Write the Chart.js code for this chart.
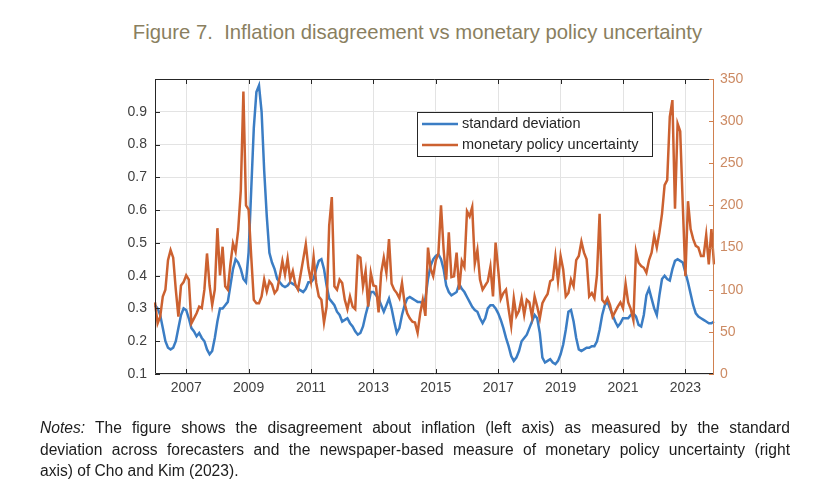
<!DOCTYPE html>
<html>
<head>
<meta charset="utf-8">
<script src="https://cdn.jsdelivr.net/npm/chart.js@4.4.0/dist/chart.umd.min.js"></script>
<style>
  html, body { margin: 0; padding: 0; background: #fff; }
  #wrap { position: relative; width: 835px; height: 485px; overflow: hidden; }
  #chart { position: absolute; left: 0; top: 0; }
  .title { position: absolute; left: 0; top: 20px; width: 835px; text-align: center;
           font: 20.3px "Liberation Sans", sans-serif; line-height: 24px; color: #8a7f5f; }
  .notes { position: absolute; left: 40px; top: 417px; width: 750px;
           font: 15.6px "Liberation Sans", sans-serif; line-height: 21.5px; color: #1c1c1c; }
  .notes div { white-space: nowrap; text-align: justify; text-align-last: justify; }
  .notes div.last { text-align-last: left; }
</style>
</head>
<body>
<div id="wrap">
  <div class="title">Figure 7.&nbsp; Inflation disagreement vs monetary policy uncertainty</div>
  <canvas id="chart" width="835" height="485"></canvas>
  <div class="notes">
    <div><i>Notes:</i> The figure shows the disagreement about inflation (left axis) as measured by the standard</div>
    <div>deviation across forecasters and the newspaper-based measure of monetary policy uncertainty (right</div>
    <div class="last">axis) of Cho and Kim (2023).</div>
  </div>
</div>
<script>
// monthly data, Jan 2006 .. Dec 2023
const startYear = 2006;
const yearTicks = ['2007', '2009', '2011', '2013', '2015', '2017', '2019', '2021', '2023'];

const stdDev = [
  0.31, 0.30, 0.28, 0.24, 0.20, 0.18, 0.175, 0.18, 0.20, 0.24, 0.28, 0.30,
  0.295, 0.27, 0.24, 0.23, 0.215, 0.225, 0.21, 0.20, 0.175, 0.16, 0.17, 0.21,
  0.26, 0.30, 0.30, 0.31, 0.32, 0.37, 0.42, 0.45, 0.44, 0.42, 0.39, 0.38,
  0.47, 0.66, 0.85, 0.96, 0.98, 0.90, 0.72, 0.58, 0.47, 0.44, 0.42, 0.39,
  0.38, 0.37, 0.365, 0.37, 0.38, 0.375, 0.37, 0.36, 0.355, 0.35, 0.36, 0.38,
  0.38, 0.39, 0.42, 0.445, 0.45, 0.42, 0.37, 0.33, 0.32, 0.31, 0.29, 0.28,
  0.26, 0.265, 0.27, 0.255, 0.245, 0.23, 0.22, 0.225, 0.245, 0.28, 0.31, 0.35,
  0.35, 0.34, 0.33, 0.31, 0.29, 0.31, 0.33, 0.30, 0.26, 0.225, 0.24, 0.28,
  0.31, 0.33, 0.335, 0.33, 0.325, 0.32, 0.32, 0.315, 0.33, 0.39, 0.43, 0.45,
  0.46, 0.465, 0.45, 0.42, 0.37, 0.35, 0.34, 0.345, 0.35, 0.375, 0.36, 0.35,
  0.335, 0.32, 0.305, 0.295, 0.29, 0.27, 0.255, 0.27, 0.30, 0.31, 0.31, 0.30,
  0.285, 0.265, 0.24, 0.21, 0.185, 0.155, 0.14, 0.15, 0.17, 0.20, 0.21, 0.22,
  0.24, 0.26, 0.28, 0.27, 0.225, 0.15, 0.135, 0.14, 0.145, 0.135, 0.13, 0.14,
  0.16, 0.19, 0.235, 0.29, 0.295, 0.26, 0.21, 0.175, 0.17, 0.175, 0.18, 0.18,
  0.185, 0.185, 0.20, 0.235, 0.28, 0.31, 0.32, 0.30, 0.28, 0.26, 0.245, 0.255,
  0.27, 0.27, 0.27, 0.28, 0.285, 0.275, 0.25, 0.245, 0.28, 0.34, 0.36, 0.33,
  0.30, 0.28, 0.34, 0.39, 0.40, 0.39, 0.385, 0.42, 0.445, 0.45, 0.445, 0.44,
  0.41, 0.38, 0.345, 0.31, 0.285, 0.275, 0.27, 0.265, 0.26, 0.255, 0.255, 0.26
];

const mpu = [
  85, 60, 68, 92, 100, 135, 147, 138, 100, 68, 105, 109,
  117, 112, 60, 66, 72, 80, 78, 100, 143, 105, 82, 100,
  173, 117, 151, 104, 100, 130, 155, 145, 171, 218, 335, 200,
  195, 140, 88, 84, 84, 92, 112, 98, 110, 106, 96, 100,
  116, 134, 118, 137, 112, 122, 106, 100, 118, 136, 154, 126,
  110, 139, 108, 92, 88, 61, 80, 176, 210, 104, 100, 112,
  108, 88, 77, 92, 80, 77, 140, 138, 104, 122, 80, 120,
  105, 104, 73, 120, 138, 120, 160, 107, 100, 96, 90, 108,
  84, 72, 66, 62, 61, 49, 72, 88, 69, 150, 125, 116,
  135, 143, 200, 148, 112, 168, 115, 116, 144, 100, 134, 127,
  193, 187, 198, 131, 147, 112, 100, 105, 110, 127, 92, 156,
  124, 89, 96, 100, 77, 57, 90, 69, 75, 90, 70, 88,
  85, 68, 92, 80, 66, 84, 90, 95, 110, 112, 139, 110,
  140, 124, 92, 96, 112, 104, 135, 140, 157, 144, 136, 92,
  96, 90, 118, 190, 88, 84, 90, 82, 68, 74, 80, 85,
  78, 107, 85, 77, 64, 145, 132, 128, 126, 120, 135, 144,
  164, 150, 168, 190, 224, 230, 305, 325, 196, 297, 288, 200,
  116, 205, 172, 160, 152, 150, 140, 140, 165, 130, 172, 130
];

const months = stdDev.map((_, i) =>
  (startYear + Math.floor(i / 12)) + '-' + String(i % 12 + 1).padStart(2, '0'));

const BLUE = '#3b7dc4';
const ORANGE = '#cc6130';
const ORANGE_TXT = '#cc8a63';
const AXIS = '#262626';
const GRID = '#e3e3e3';
const tickFont = { family: 'Liberation Sans', size: 14 };

// box and inward tick marks, matlab style
const frame = {
  id: 'frame',
  afterDraw(chart) {
    const { ctx, chartArea: a, scales } = chart;
    const tl = 5;
    ctx.save();
    ctx.lineWidth = 1;
    ctx.strokeStyle = AXIS;
    ctx.beginPath();
    ctx.moveTo(a.right, a.top + 0.5);
    ctx.lineTo(a.left + 0.5, a.top + 0.5);
    ctx.lineTo(a.left + 0.5, a.bottom - 0.5);
    ctx.lineTo(a.right, a.bottom - 0.5);
    scales.x.ticks.forEach((t, i) => {
      const px = Math.round(scales.x.getPixelForTick(i)) + 0.5;
      ctx.moveTo(px, a.bottom); ctx.lineTo(px, a.bottom - tl);
      ctx.moveTo(px, a.top); ctx.lineTo(px, a.top + tl);
    });
    scales.y.ticks.forEach((t, i) => {
      const py = Math.round(scales.y.getPixelForTick(i)) + 0.5;
      ctx.moveTo(a.left, py); ctx.lineTo(a.left + tl, py);
    });
    ctx.stroke();
    ctx.strokeStyle = '#d0804f';
    ctx.beginPath();
    ctx.moveTo(a.right - 0.5, a.top);
    ctx.lineTo(a.right - 0.5, a.bottom);
    scales.y2.ticks.forEach((t, i) => {
      const py = Math.round(scales.y2.getPixelForTick(i)) + 0.5;
      ctx.moveTo(a.right, py); ctx.lineTo(a.right - tl, py);
    });
    ctx.stroke();
    ctx.restore();
  }
};

const boxLegend = {
  id: 'boxLegend',
  afterDraw(chart) {
    const { ctx, chartArea: a } = chart;
    const x = a.left + 262, y = a.top + 33, w = 235, h = 44;
    ctx.save();
    ctx.fillStyle = '#fff';
    ctx.fillRect(x, y, w, h);
    ctx.strokeStyle = AXIS;
    ctx.lineWidth = 1;
    ctx.strokeRect(x + 0.5, y + 0.5, w, h);
    ctx.font = '14.5px "Liberation Sans"';
    ctx.textBaseline = 'middle';
    chart.data.datasets.forEach((ds, i) => {
      const ly = y + 12 + i * 21;
      ctx.strokeStyle = ds.borderColor;
      ctx.lineWidth = 2.5;
      ctx.beginPath();
      ctx.moveTo(x + 5, ly); ctx.lineTo(x + 41, ly);
      ctx.stroke();
      ctx.fillStyle = AXIS;
      ctx.fillText(ds.label, x + 45, ly);
    });
    ctx.restore();
  }
};

new Chart(document.getElementById('chart'), {
  type: 'line',
  data: {
    labels: months,
    datasets: [
      { label: 'standard deviation', data: stdDev, yAxisID: 'y', borderColor: BLUE,
        borderWidth: 2.5, pointRadius: 0, tension: 0, order: 1 },
      { label: 'monetary policy uncertainty', data: mpu, yAxisID: 'y2', borderColor: ORANGE,
        borderWidth: 2.5, pointRadius: 0, tension: 0, order: 0 }
    ]
  },
  options: {
    responsive: false,
    animation: false,
    layout: { padding: { left: 0, right: 0, top: 79, bottom: 81 } },
    plugins: { legend: { display: false }, tooltip: { enabled: false } },
    scales: {
      x: {
        type: 'category',
        offset: false,
        border: { display: false },
        grid: { color: GRID, drawTicks: false },
        ticks: {
          autoSkip: false, maxRotation: 0, color: '#404040', font: tickFont, padding: 6,
          callback: (v) => months[v].slice(0, 4)
        },
        afterBuildTicks: (s) => {
          s.ticks = s.ticks.filter(t => {
            const m = months[t.value];
            return m.endsWith('-01') && yearTicks.includes(m.slice(0, 4));
          });
        },
        afterFit: (s) => { s.height = 30; }
      },
      y: {
        position: 'left',
        min: 0.1, max: 1.0,
        border: { display: false },
        grid: { color: GRID, drawTicks: false },
        ticks: {
          stepSize: 0.1, color: '#404040', font: tickFont, padding: 8,
          callback: (v) => v > 0.95 ? '' : v.toFixed(1)
        },
        afterFit: (s) => { s.width = 155; }
      },
      y2: {
        position: 'right',
        min: 0, max: 350,
        border: { display: false },
        grid: { drawOnChartArea: false, drawTicks: false },
        ticks: { stepSize: 50, color: ORANGE_TXT, font: tickFont, padding: 6 },
        afterFit: (s) => { s.width = 121; }
      }
    }
  },
  plugins: [frame, boxLegend]
});
</script>
</body>
</html>
